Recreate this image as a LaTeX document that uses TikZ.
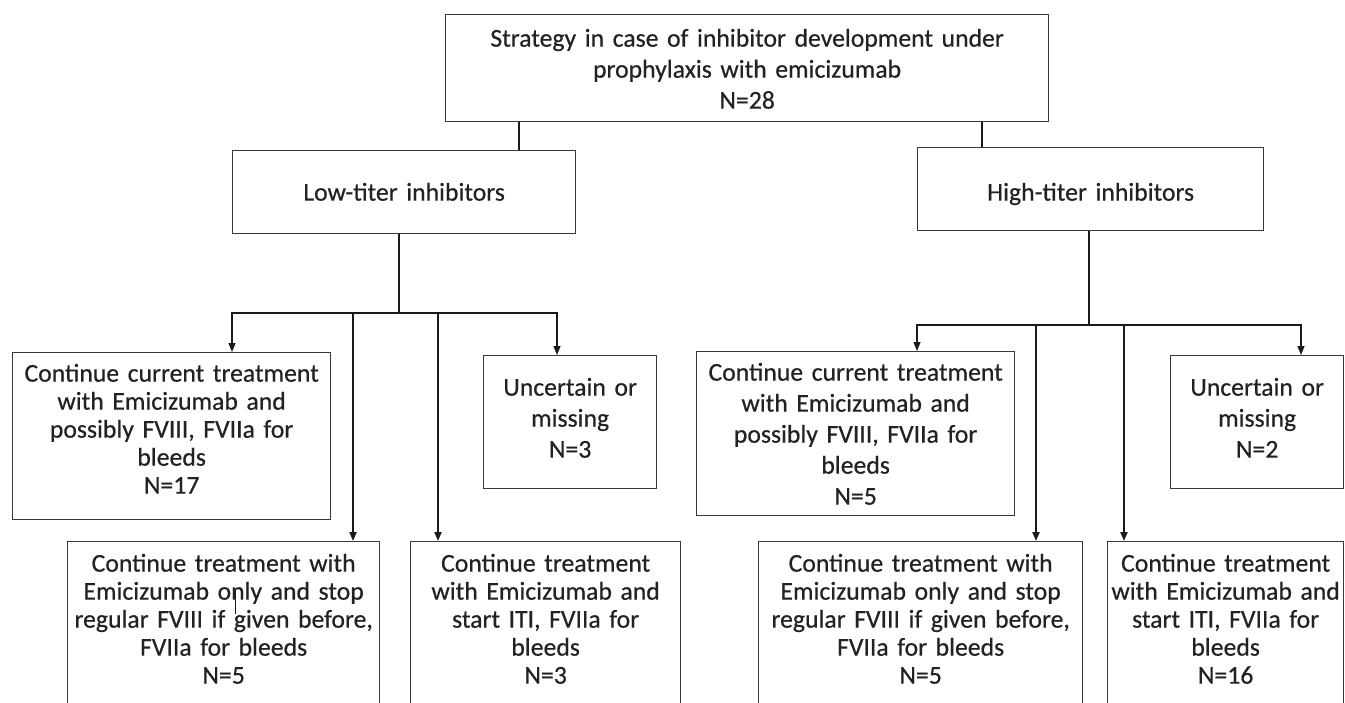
\documentclass[tikz,border=0pt]{standalone}
\usepackage{fontspec}
\setmainfont{Carlito}[FakeBold=0.5]
\usetikzlibrary{arrows.meta}
\definecolor{linec}{HTML}{1A1A1A}
\definecolor{boxc}{HTML}{3A3A3A}
\definecolor{txtc}{HTML}{222222}
\begin{document}
\begin{tikzpicture}[x=1pt,y=-1pt,
  box/.style={draw=boxc, line width=1.3pt, inner xsep=0pt, inner ysep=0pt, align=center, anchor=north west, text=txtc, font=\fontsize{25.7}{31}\selectfont},
  tight/.style={font=\fontsize{25.7}{28}\selectfont},
  conn/.style={draw=linec, line width=1.1pt},
  arr/.style={conn, -{Triangle[length=9pt,width=7pt]}},
  tarr/.style={draw=linec, line width=2pt, -{Triangle[length=9pt,width=7pt]}},
]
\useasboundingbox (0,0) rectangle (1345,702);

\node[box, text width=603, text height=32, text depth=75] (top) at (445,14)
  {Strategy in case of inhibitor development under\\ prophylaxis with emicizumab\\ N=28};
\node[box, text width=343, text height=50, text depth=33] (low) at (232,150) {Low-titer inhibitors};
\node[box, text width=346, text height=53, text depth=30] (high) at (917,147) {High-titer inhibitors};

\node[box, tight, text width=318, text height=29, text depth=138] (lc) at (12,352)
  {Continue current treatment\\ with Emicizumab and\\ possibly FVIII, FVIIa for\\ bleeds\\ N=17};
\node[box, text width=173, text height=40, text depth=93] (lu) at (483,355)
  {Uncertain or\\ missing\\ N=3};
\node[box, tight, text width=312, text height=30, text depth=200] (lb1) at (67,541)
  {Continue treatment with\\ Emicizumab only and stop\\ regular FVIII if given before,\\ FVIIa for bleeds\\ N=5};
\node[box, tight, text width=270, text height=30, text depth=200] (lb2) at (410,541)
  {Continue treatment\\ with Emicizumab and\\ start ITI, FVIIa for\\ bleeds\\ N=3};

\node[box, text width=318, text height=29, text depth=135] (hc) at (696,351)
  {Continue current treatment\\ with Emicizumab and\\ possibly FVIII, FVIIa for\\ bleeds\\ N=5};
\node[box, text width=173, text height=40, text depth=93] (hu) at (1170,355)
  {Uncertain or\\ missing\\ N=2};
\node[box, tight, text width=324, text height=30, text depth=200] (hb1) at (758,541)
  {Continue treatment with\\ Emicizumab only and stop\\ regular FVIII if given before,\\ FVIIa for bleeds\\ N=5};
\node[box, tight, text width=236, text height=30, text depth=200] (hb2) at (1107,541)
  {Continue treatment\\ with Emicizumab and\\ start ITI, FVIIa for\\ bleeds\\ N=16};

\coordinate (xt1) at (519,0);
\coordinate (xt2) at (982,0);
\coordinate (jl) at (399,313);
\coordinate (jr) at (1089,325);
\coordinate (xa) at (232,0);
\coordinate (xb) at (353,0);
\coordinate (xc) at (438,0);
\coordinate (xd) at (557,0);
\coordinate (xe) at (917,0);
\coordinate (xf) at (1036,0);
\coordinate (xg) at (1124,0);
\coordinate (xh) at (1301,0);

\draw[conn] (xt1 |- top.south) -- (xt1 |- low.north);
\draw[conn] (xt2 |- top.south) -- (xt2 |- high.north);

\draw[conn] (jl |- low.south) -- (jl);
\draw[arr] (jl) -| (xa |- lc.north);
\draw[arr] (jl) -| (xd |- lu.north);
\draw[tarr] (xb |- jl) -- (xb |- lb1.north);
\draw[tarr] (xc |- jl) -- (xc |- lb2.north);

\draw[conn] (jr |- high.south) -- (jr);
\draw[arr] (jr) -| (xe |- hc.north);
\draw[arr] (jr) -| (xh |- hu.north);
\draw[tarr] (xf |- jr) -- (xf |- hb1.north);
\draw[tarr] (xg |- jr) -- (xg |- hb2.north);

\draw[draw=linec, line width=0.6pt] (235,590) -- (235,614);
\end{tikzpicture}
\end{document}
